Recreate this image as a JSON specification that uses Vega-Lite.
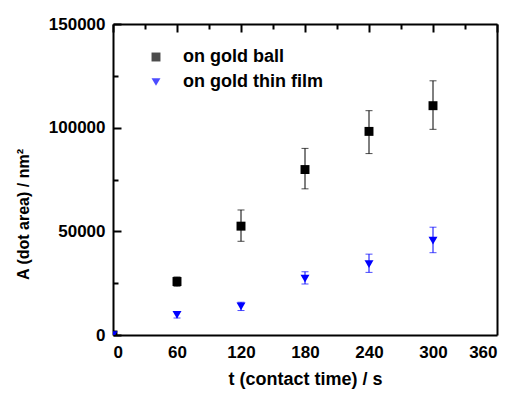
{
  "$schema": "https://vega.github.io/schema/vega-lite/v6.json",
  "autosize": "none",
  "width": 384,
  "height": 311,
  "padding": {"left": 113, "top": 24, "right": 15, "bottom": 58},
  "background": "white",
  "config": {
    "font": "Liberation Sans",
    "view": {"stroke": null},
    "axis": {
      "labelFont": "Liberation Sans", "labelFontWeight": "bold", "labelFontSize": 17, "labelColor": "black",
      "titleFont": "Liberation Sans", "titleFontWeight": "bold", "titleFontSize": 16, "titleColor": "black",
      "domainColor": "black", "domainWidth": 2, "tickColor": "black", "tickWidth": 2, "grid": false
    }
  },
  "data": {"values": [
    {"t": 0, "A": 0, "lo": 0, "hi": 0, "series": "on gold ball"},
    {"t": 60, "A": 25800, "lo": 23500, "hi": 28000, "series": "on gold ball"},
    {"t": 120, "A": 52500, "lo": 45200, "hi": 60300, "series": "on gold ball"},
    {"t": 180, "A": 79800, "lo": 70500, "hi": 90000, "series": "on gold ball"},
    {"t": 240, "A": 98200, "lo": 87500, "hi": 108200, "series": "on gold ball"},
    {"t": 300, "A": 110600, "lo": 99200, "hi": 122600, "series": "on gold ball"},
    {"t": 0, "A": 0, "lo": 0, "hi": 0, "series": "on gold thin film"},
    {"t": 60, "A": 9700, "lo": 8200, "hi": 11200, "series": "on gold thin film"},
    {"t": 120, "A": 13800, "lo": 11800, "hi": 15800, "series": "on gold thin film"},
    {"t": 180, "A": 27200, "lo": 24600, "hi": 30500, "series": "on gold thin film"},
    {"t": 240, "A": 34200, "lo": 30200, "hi": 39000, "series": "on gold thin film"},
    {"t": 300, "A": 45500, "lo": 39700, "hi": 52000, "series": "on gold thin film"}
  ]},
  "resolve": {"axis": {"x": "independent", "y": "independent"}},
  "layer": [
    {
      "mark": {"type": "rule", "strokeWidth": 1, "clip": true},
      "encoding": {
        "x": {"field": "t", "type": "quantitative", "scale": {"domain": [0, 360], "nice": false},
              "axis": {"orient": "bottom", "values": [0, 60, 120, 180, 240, 300, 360], "format": "d", "ticks": false, "grid": true, "gridColor": "black", "gridWidth": 2, "gridDash": [8, 2000], "labelPadding": 9, "title": "t (contact time) / s", "titleFontSize": 18, "titlePadding": 10}},
        "y": {"field": "lo", "type": "quantitative", "scale": {"domain": [0, 150000], "nice": false},
              "axis": {"orient": "left", "values": [0, 50000, 100000, 150000], "format": "d", "ticks": false, "grid": true, "gridColor": "black", "gridWidth": 2, "gridDash": [8, 2000], "labelPadding": 8, "title": "A (dot area) / nm²", "titleX": -82, "titleY": 190}},
        "y2": {"field": "hi"},
        "color": {"field": "series", "type": "nominal", "scale": {"domain": ["on gold ball", "on gold thin film"], "range": ["black", "#0000ff"]},
          "legend": {"title": null, "orient": "none", "legendX": 34, "legendY": 24, "symbolSize": 80,
                     "labelFont": "Liberation Sans", "labelFontWeight": "bold", "labelFontSize": 18, "labelColor": "black", "labelOffset": 18, "rowPadding": 7, "symbolStrokeWidth": 0}}
      }
    },
    {
      "mark": {"type": "tick", "orient": "horizontal", "size": 7, "thickness": 1, "clip": true},
      "encoding": {
        "x": {"field": "t", "type": "quantitative", "scale": {"domain": [0, 360], "nice": false},
              "axis": {"orient": "top", "ticks": false, "labels": false, "domain": true, "title": null}},
        "y": {"field": "hi", "type": "quantitative", "scale": {"domain": [0, 150000], "nice": false},
              "axis": {"orient": "right", "ticks": false, "labels": false, "domain": true, "title": null}},
        "color": {"field": "series", "type": "nominal"}
      }
    },
    {
      "mark": {"type": "tick", "orient": "horizontal", "size": 7, "thickness": 1, "clip": true},
      "encoding": {
        "x": {"field": "t", "type": "quantitative", "scale": {"domain": [0, 360], "nice": false}, "axis": null},
        "y": {"field": "lo", "type": "quantitative", "scale": {"domain": [0, 150000], "nice": false}, "axis": null},
        "color": {"field": "series", "type": "nominal"}
      }
    },
    {
      "mark": {"type": "point", "filled": true, "opacity": 1, "clip": true},
      "encoding": {
        "x": {"field": "t", "type": "quantitative", "scale": {"domain": [0, 360], "nice": false},
              "axis": {"orient": "bottom", "values": [30, 90, 150, 210, 270, 330], "grid": true, "gridColor": "black", "gridWidth": 2, "gridDash": [5, 2000], "ticks": false, "labels": false, "domain": false, "title": null}},
        "y": {"field": "A", "type": "quantitative", "scale": {"domain": [0, 150000], "nice": false},
              "axis": {"orient": "left", "values": [25000, 75000, 125000], "grid": true, "gridColor": "black", "gridWidth": 2, "gridDash": [5, 2000], "ticks": false, "labels": false, "domain": false, "title": null}},
        "shape": {"field": "series", "type": "nominal", "scale": {"domain": ["on gold ball", "on gold thin film"], "range": ["square", "triangle-down"]},
          "legend": {"title": null, "orient": "none", "legendX": 34, "legendY": 24, "symbolSize": 80,
                     "labelFont": "Liberation Sans", "labelFontWeight": "bold", "labelFontSize": 18, "labelColor": "black", "labelOffset": 18, "rowPadding": 7, "symbolStrokeWidth": 0}},
        "size": {"value": 80},
        "color": {"field": "series", "type": "nominal"}
      }
    }
  ]
}
